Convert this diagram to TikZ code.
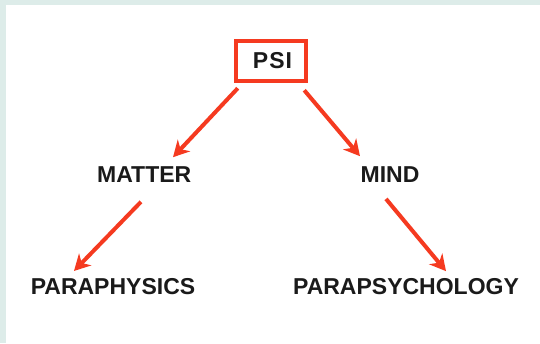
\documentclass[tikz,border=0pt]{standalone}
\usepackage{fontspec}
\setmainfont{Liberation Sans}
\usetikzlibrary{calc,arrows.meta}
\definecolor{psired}{RGB}{245,58,32}
\definecolor{psiframe}{RGB}{221,236,233}
\definecolor{psitext}{RGB}{26,26,26}
\tikzset{
  word/.style={inner sep=0pt, text=psitext, font=\fontsize{23}{27}\selectfont\bfseries},
  psibox/.style={word, draw=psired, line width=4.5pt, minimum width=70pt, minimum height=40pt},
  arrow/.style={draw=psired, line width=4pt, -{Stealth[length=16pt,width=17pt,inset=5pt]}}
}
\begin{document}
\begin{tikzpicture}[x=1pt,y=1pt]
		%%%%% START %%%%%
		
		\fill[psiframe] (0, 0) rectangle (540, 343);
		\fill[white] (6, 0) rectangle (540, 338);
		\useasboundingbox (0, 0) rectangle (540, 343);
		
		\node[psibox] (psi) at (271, 282.2) {\hspace*{3pt}P\kern1ptS\kern1ptI};
		
		\node[word] (matter) at (144.2, 168) {MATTER};
		\node[word] (mind) at (390, 168.7) {MIND};
		
		\node[word] (paraphysics) at (113, 56.5) {PARAPHYSICS};
		\node[word] (parapsychology) at (406, 56.5) {PARAPSYCHOLOGY};
		
		\draw[arrow] ($(psi.south west)+(4, -5.2)$) -- ($(matter.north)+(28.8, 9.7)$);
		\draw[arrow] ($(psi.south east)+(-4, -7.2)$) -- ($(mind.north)+(-30, 10)$);
		
		\draw[arrow] ($(matter.south)+(-3.2, -18.7)$) -- ($(paraphysics.north)+(-39, 7.2)$);
		\draw[arrow] ($(mind.south)+(-4, -16.5)$) -- ($(parapsychology.north)+(40, 7)$);
		
		%%%%% END %%%%%
	\end{tikzpicture}
\end{document}
